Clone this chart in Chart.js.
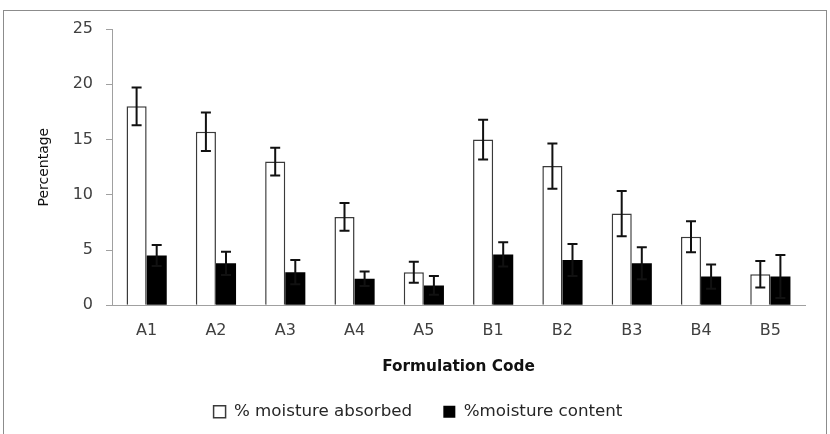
<!DOCTYPE html>
<html>
<head>
<meta charset="utf-8">
<script src="https://cdn.jsdelivr.net/npm/chart.js@4/dist/chart.umd.min.js"></script>
<style>
  body { margin: 0; background: #fff; }
  #caja { position: absolute; left: 0; top: 0; width: 830px; height: 434px; }
  #marco { position: absolute; left: 3px; top: 10px; width: 824px; height: 440px; border: 1px solid #8c8c8c; box-sizing: border-box; }
</style>
</head>
<body>
<div id="marco"></div>
<div id="caja"><canvas id="graficoHumedad" width="830" height="434"></canvas></div>
<script>
// Datos
var codigos = ['A1', 'A2', 'A3', 'A4', 'A5', 'B1', 'B2', 'B3', 'B4', 'B5'];
var absorbida = [18.0, 15.7, 13.0, 8.0, 3.0, 15.0, 12.6, 8.3, 6.2, 2.8];
var errorAbsorbida = [1.7, 1.75, 1.25, 1.25, 0.95, 1.8, 2.05, 2.05, 1.4, 1.2];
var contenido = [4.5, 3.8, 3.0, 2.4, 1.8, 4.6, 4.1, 3.8, 2.6, 2.6];
var errorContenido = [0.95, 1.05, 1.1, 0.65, 0.85, 1.1, 1.45, 1.45, 1.1, 1.95];
var marcasY = [0, 5, 10, 15, 20, 25];

var fuente = 'DejaVu Sans';

// Barras de error dibujadas con las escalas del gráfico
var barrasError = {
    id: 'barrasError',
    afterDatasetsDraw: function (chart) {
        var ctx = chart.ctx;
        var y = chart.scales.y;
        chart.data.datasets.forEach(function (ds, i) {
            var meta = chart.getDatasetMeta(i);
            meta.data.forEach(function (barra, j) {
                var v = ds.data[j];
                var e = ds.errores[j];
                var arriba = y.getPixelForValue(v + e);
                var abajo = y.getPixelForValue(v - e);
                ctx.save();
                ctx.strokeStyle = '#111';
                ctx.lineWidth = 2;
                ctx.beginPath();
                ctx.moveTo(barra.x, arriba);
                ctx.lineTo(barra.x, abajo);
                ctx.moveTo(barra.x - 5, arriba);
                ctx.lineTo(barra.x + 5, arriba);
                ctx.moveTo(barra.x - 5, abajo);
                ctx.lineTo(barra.x + 5, abajo);
                ctx.stroke();
                ctx.restore();
            });
        });
    }
};

// la leyenda del original está algo corrida a la derecha
var moverLeyenda = {
    id: 'moverLeyenda',
    afterLayout: function (chart) {
        chart.legend.left += 13;
        chart.legend.right += 13;
    }
};

var ctx = document.getElementById('graficoHumedad').getContext('2d');
var grafico = new Chart(ctx, {
    type: 'bar',
    data: {
        labels: codigos,
        datasets: [{
            label: '% moisture absorbed',
            data: absorbida,
            errores: errorAbsorbida,
            backgroundColor: '#ffffff',
            borderColor: '#3a3a3a',
            borderWidth: 1.5,
            borderSkipped: 'bottom'
        }, {
            label: '%moisture content',
            data: contenido,
            errores: errorContenido,
            backgroundColor: '#000000',
            borderColor: '#000000',
            borderWidth: 0
        }]
    },
    options: {
        responsive: false,
        animation: false,
        categoryPercentage: 0.58,
        barPercentage: 1.0,
        layout: { padding: { top: 29, right: 25, left: 5, bottom: 4 } },
        plugins: {
            legend: {
                position: 'bottom',
                labels: {
                    boxWidth: 12,
                    boxHeight: 12,
                    padding: 10,
                    color: '#262626',
                    font: { family: fuente, size: 16.7 },
                    generateLabels: function (chart) {
                        var items = Chart.defaults.plugins.legend.labels.generateLabels(chart);
                        items[0].text = items[0].text + '    ';
                        return items;
                    }
                }
            },
            tooltip: { enabled: false }
        },
        scales: {
            x: {
                afterFit: function (escala) { escala.height = 88; },
                grid: { display: false },
                border: { color: '#a0a0a0', width: 1 },
                ticks: { color: '#404040', padding: 8, font: { family: fuente, size: 16 } },
                title: {
                    display: true,
                    text: 'Formulation Code',
                    color: '#111',
                    padding: { top: 4, bottom: 17 },
                    font: { family: fuente, size: 15.3, weight: 'bold' }
                }
            },
            y: {
                min: 0,
                max: 25,
                afterFit: function (escala) { escala.width = 107; },
                afterBuildTicks: function (escala) {
                    escala.ticks = marcasY.map(function (v) { return { value: v }; });
                },
                grid: { drawOnChartArea: false, drawTicks: true, tickLength: 6, color: '#a0a0a0' },
                border: { color: '#a0a0a0', width: 1 },
                ticks: { color: '#404040', padding: 13, font: { family: fuente, size: 16 } },
                title: {
                    display: true,
                    text: 'Percentage',
                    color: '#111',
                    padding: { top: 31, bottom: 4 },
                    font: { family: fuente, size: 14 }
                }
            }
        }
    },
    plugins: [barrasError, moverLeyenda]
});
</script>
</body>
</html>
